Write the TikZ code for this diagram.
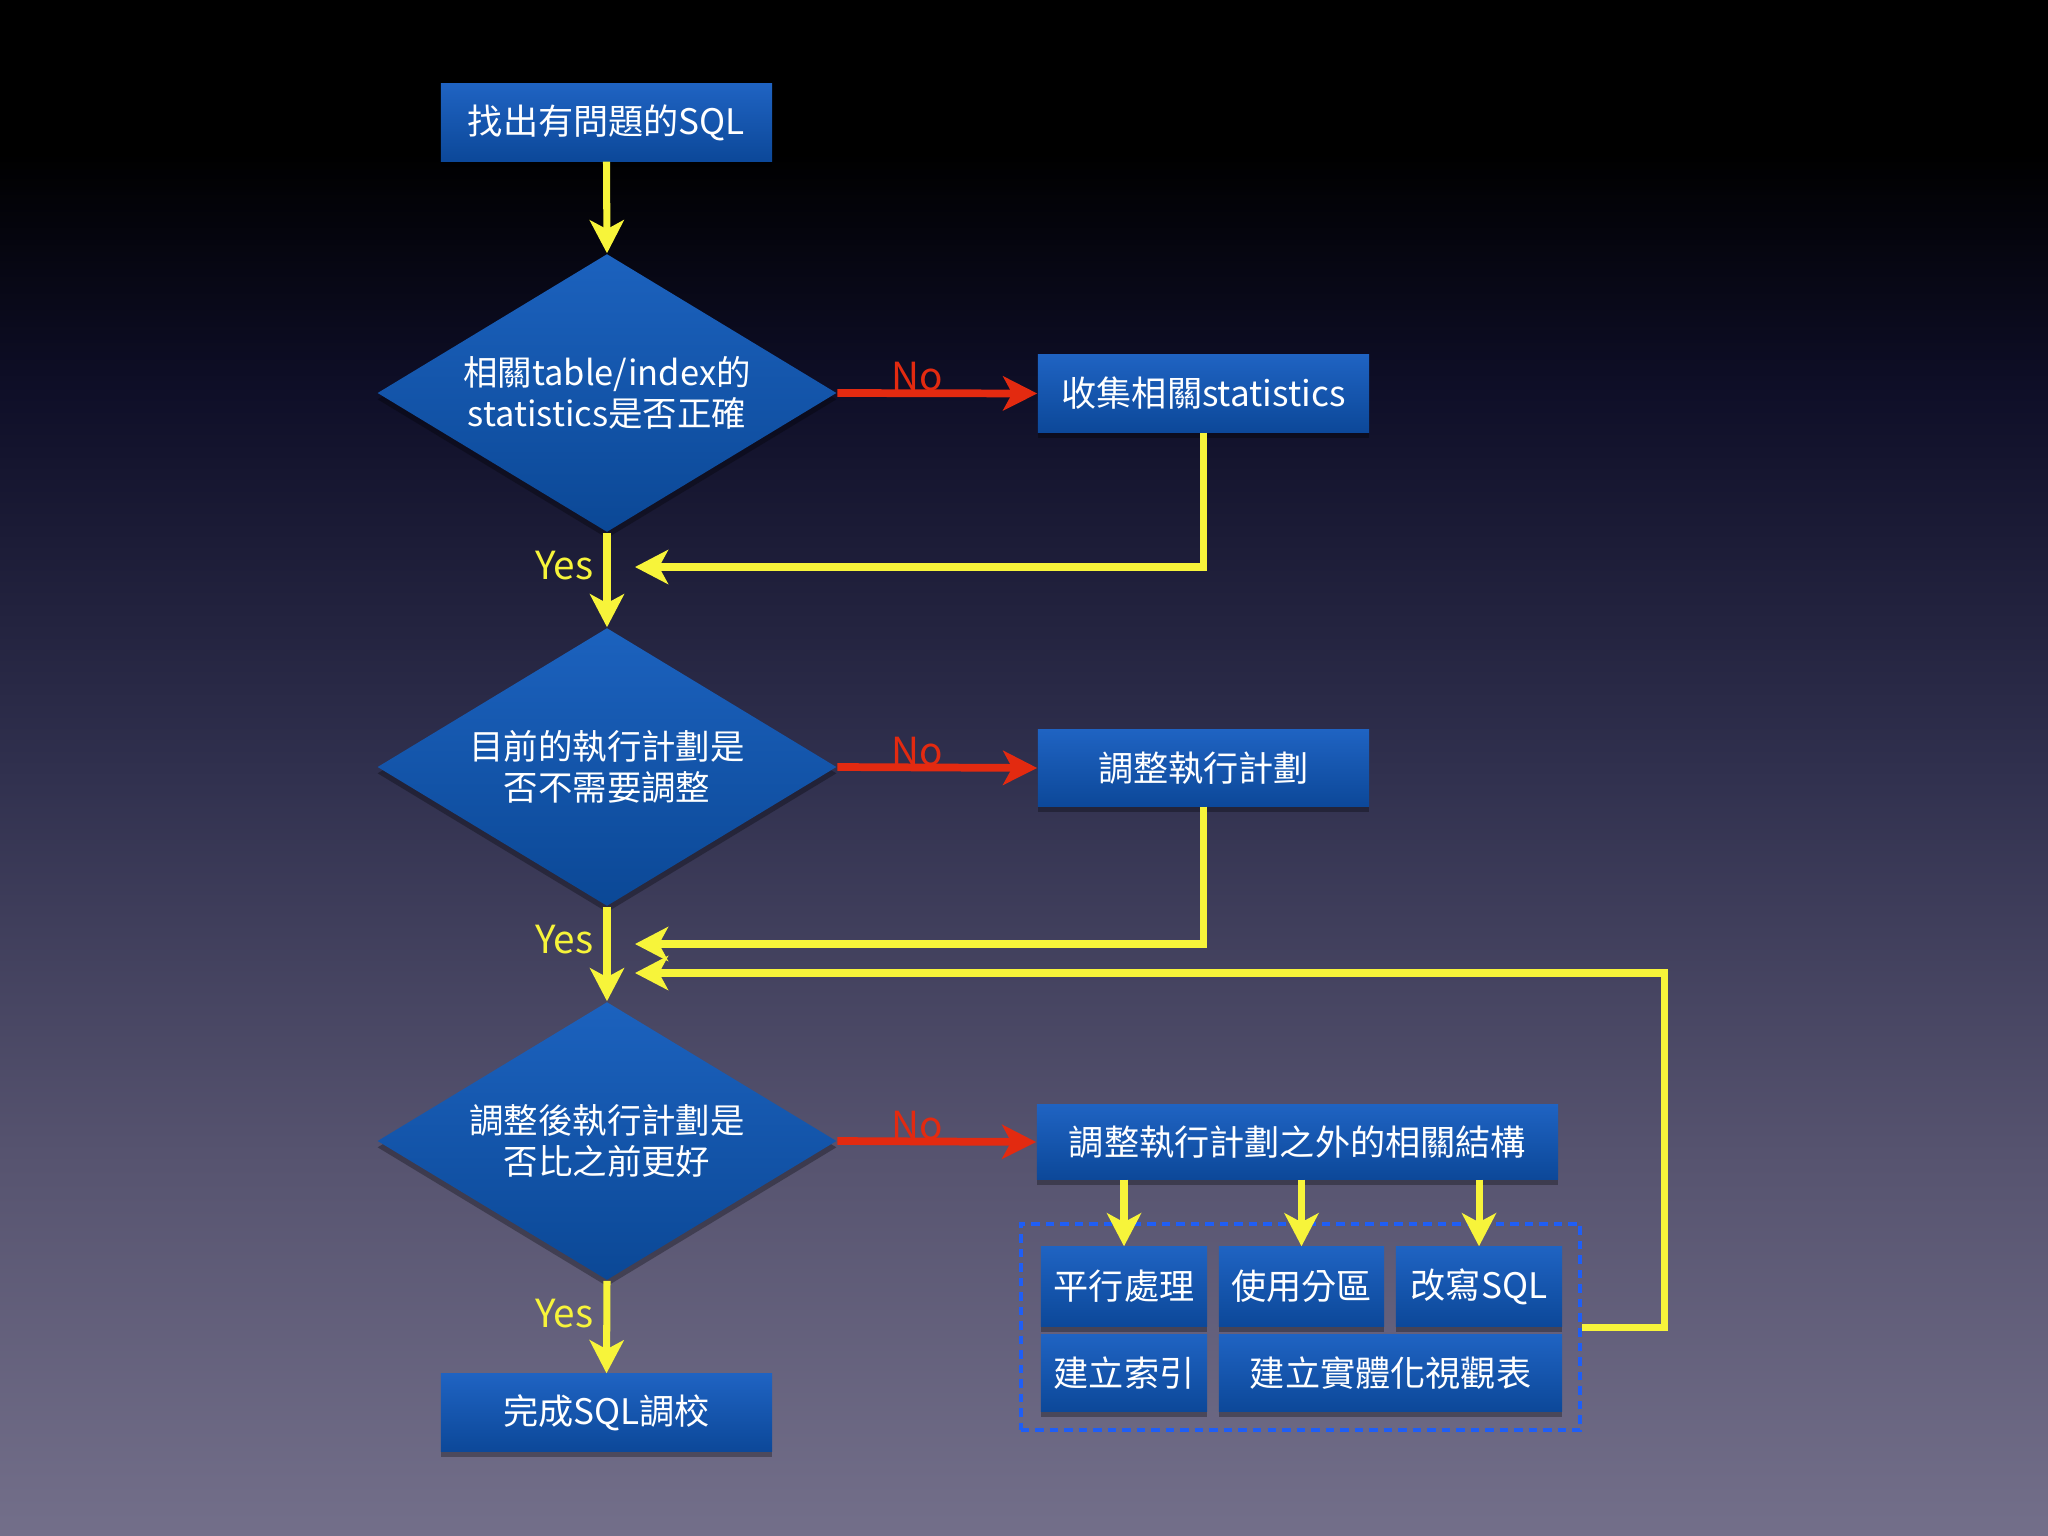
\documentclass[tikz,border=0pt]{standalone}
\usepackage{fontspec}
\newfontfamily\cjk{Noto Sans CJK TC}
\usetikzlibrary{shapes.geometric,arrows.meta,shadows}
\definecolor{yel}{HTML}{F7F43A}
\definecolor{redc}{HTML}{E32A10}
\definecolor{boxtop}{HTML}{1F63C2}
\definecolor{boxbot}{HTML}{0C4899}
\definecolor{dtop}{HTML}{1C62BE}
\definecolor{dbot}{HTML}{0B4896}
\definecolor{bga}{HTML}{736F8A}
\definecolor{bgb}{HTML}{56536F}
\definecolor{bgc}{HTML}{30304E}
\definecolor{bgd}{HTML}{0E0E27}
\definecolor{dashc}{HTML}{1F5EF5}
\pgfdeclareverticalshading{bgshade}{100bp}{color(0bp)=(bga); color(25bp)=(bga); color(37.5bp)=(bgb); color(50bp)=(bgc); color(62.5bp)=(bgd); color(70bp)=(black); color(75bp)=(black); color(100bp)=(black)}
\tikzset{
  shad/.style={drop shadow={shadow xshift=0pt, shadow yshift=-1.8pt, opacity=0.3, fill=black}},
  stepbox/.style={rectangle, top color=boxtop, bottom color=boxbot, text=white, inner sep=0pt,
     font=\cjk\fontsize{10}{12}\selectfont, shad},
  decision/.style={diamond, top color=dtop, bottom color=dbot, inner sep=0pt,
     minimum width=4.59cm, minimum height=2.78cm, shad},
  dtext/.style={text=white, align=center, inner sep=0pt, font=\cjk\fontsize{9.8}{11.6}\selectfont},
  group/.style={rectangle, draw=dashc, line width=1.1pt, dash pattern=on 0.085cm off 0.06cm,
     minimum width=5.59cm, minimum height=2.06cm},
  ya/.style={draw=yel, line width=2pt, -{Stealth[length=0.33cm, width=0.34cm, inset=0.09cm]}},
  ra/.style={draw=redc, line width=2.2pt, -{Stealth[length=0.34cm, width=0.34cm, inset=0.09cm]}},
  yeslbl/.style={text=yel, font=\cjk\fontsize{11}{13}\selectfont, inner sep=0pt},
  nolbl/.style={text=redc, font=\cjk\fontsize{11}{13}\selectfont, inner sep=0pt},
}
\begin{document}
\begin{tikzpicture}[x=0.01cm, y=-0.01cm]
\useasboundingbox (0,0) rectangle (2048,1536);
\shade[shading=bgshade] (0,0) rectangle (2048,1536);

% main column
\node[stepbox, minimum width=3.31cm, minimum height=0.77cm] (top) at (606.5,122.5) {找出有問題的SQL};
\node[decision, label={[dtext]center:相關table/index的\\statistics是否正確}] (d1) at (607,393) {};
\node[decision, label={[dtext]center:目前的執行計劃是\\否不需要調整}] (d2) at (607,767) {};
\node[decision, label={[dtext]center:調整後執行計劃是\\否比之前更好}] (d3) at (607,1141) {};
\node[stepbox, minimum width=3.31cm, minimum height=0.77cm] (fin) at (606.5,1412.5) {完成SQL調校};

% right column
\node[stepbox, minimum width=3.31cm, minimum height=0.77cm] (b1) at (1203.5,393.5) {收集相關statistics};
\node[stepbox, minimum width=3.31cm, minimum height=0.76cm] (b2) at (1203.5,768) {調整執行計劃};
\node[stepbox, minimum width=5.21cm, minimum height=0.74cm] (b3) at (1297.5,1142) {調整執行計劃之外的相關結構};

\node[group] (grp) at (1300.5,1327) {};
\node[stepbox, minimum width=1.66cm, minimum height=0.79cm] (s1) at (1124,1286.5) {平行處理};
\node[stepbox, minimum width=1.65cm, minimum height=0.79cm] (s2) at (1301.5,1286.5) {使用分區};
\node[stepbox, minimum width=1.66cm, minimum height=0.79cm] (s3) at (1479,1286.5) {改寫SQL};
\node[stepbox, minimum width=1.66cm, minimum height=0.76cm] (s4) at (1124,1373) {建立索引};
\node[stepbox, minimum width=3.43cm, minimum height=0.76cm] (s5) at (1390.5,1373) {建立實體化視觀表};

% feedback coordinates
\coordinate (fb1) at (635,567);
\coordinate (fb2) at (635,944);
\coordinate (fb3) at (635,973);
\coordinate (c3) at (1664,973);

% connectors
\draw[ya] (top.south) -- (d1.north);
\draw[ya] (d1.south) -- (d2.north) node[yeslbl, pos=0.35, left=0.1cm] {Yes};
\draw[ya] (d2.south) -- (d3.north) node[yeslbl, pos=0.35, left=0.1cm] {Yes};
\draw[ya] (d3.south) -- (fin.north) node[yeslbl, pos=0.35, left=0.1cm] {Yes};

\draw[ra] (d1.east) -- (b1.west) node[nolbl, pos=0.4, above=-0.02cm] {No};
\draw[ra] (d2.east) -- (b2.west) node[nolbl, pos=0.4, above=-0.02cm] {No};
\draw[ra] (d3.east) -- (b3.west) node[nolbl, pos=0.4, above=-0.02cm] {No};

\draw[ya] (b1.south) |- (fb1);
\draw[ya] (b2.south) |- (fb2);
\draw[ya] (grp.east) -| (c3) -- (fb3);

\draw[ya] (b3.south -| s1.north) -- (s1.north);
\draw[ya] (b3.south -| s2.north) -- (s2.north);
\draw[ya] (b3.south -| s3.north) -- (s3.north);
\end{tikzpicture}
\end{document}
